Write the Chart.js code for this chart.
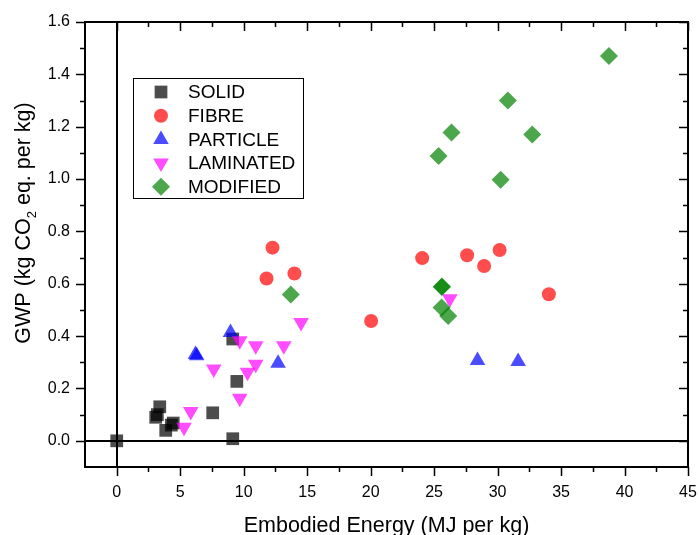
<!DOCTYPE html>
<html>
<head>
<meta charset="utf-8">
<script src="https://cdn.jsdelivr.net/npm/chart.js@4.4.0/dist/chart.umd.min.js"></script>
<style>
  html, body { margin: 0; padding: 0; background: #fff; }
  #wrap { width: 699px; height: 535px; }
</style>
</head>
<body>
<div id="wrap"><canvas id="gwp"></canvas></div>
<script>
// data
const seriesNames = ["SOLID", "FIBRE", "PARTICLE", "LAMINATED", "MODIFIED"];

const solidX = [0, 3.07, 3.2, 3.39, 3.86, 4.3, 4.45, 7.56, 9.14, 9.46, 9.14];
const solidY = [0, 0.09, 0.1, 0.13, 0.04, 0.06, 0.068, 0.107, 0.008, 0.227, 0.389];

const fibreX = [11.8, 12.27, 14.0, 20.04, 24.06, 27.6, 28.94, 30.16, 34.04];
const fibreY = [0.62, 0.738, 0.639, 0.458, 0.698, 0.709, 0.668, 0.729, 0.56];

const particleX = [6.2, 6.3, 8.96, 12.71, 28.42, 31.62];
const particleY = [0.33, 0.325, 0.414, 0.296, 0.307, 0.303];

const laminatedX = [5.3, 5.83, 7.64, 9.69, 9.69, 10.3, 10.95, 10.95, 13.16, 14.52, 26.24];
const laminatedY = [0.052, 0.112, 0.274, 0.163, 0.382, 0.262, 0.293, 0.363, 0.363, 0.452, 0.543];

const modifiedX = [13.71, 25.35, 25.59, 25.61, 25.61, 26.11, 26.37, 30.24, 30.81, 32.73, 38.77];
const modifiedY = [0.559, 1.088, 0.509, 0.588, 0.59, 0.477, 1.178, 0.997, 1.30, 1.17, 1.47];

const xTicks = [0, 5, 10, 15, 20, 25, 30, 35, 40, 45];
const xMinor = [2.5, 7.5, 12.5, 17.5, 22.5, 27.5, 32.5, 37.5, 42.5];
const yTicks = [0.0, 0.2, 0.4, 0.6, 0.8, 1.0, 1.2, 1.4, 1.6];
const yMinor = [0.1, 0.3, 0.5, 0.7, 0.9, 1.1, 1.3, 1.5];

const FONT = "'Liberation Sans', Arial, sans-serif";

function pts(xs, ys) {
    return xs.map((x, i) => ({ x: x, y: ys[i] }));
}

const styles = [
    { color: "rgba(0,0,0,0.7)",     pointStyle: "rect",     radius: 9, rotation: 0 },
    { color: "rgba(255,0,0,0.7)",   pointStyle: "circle",   radius: 7, rotation: 0 },
    { color: "rgba(0,0,255,0.7)",   pointStyle: "triangle", radius: 9, rotation: 0 },
    { color: "rgba(255,0,255,0.7)", pointStyle: "triangle", radius: 9, rotation: 180 },
    { color: "rgba(0,128,0,0.7)",   pointStyle: "rectRot",  radius: 9, rotation: 0 }
];
const allX = [solidX, fibreX, particleX, laminatedX, modifiedX];
const allY = [solidY, fibreY, particleY, laminatedY, modifiedY];

const datasets = seriesNames.map((name, i) => ({
    label: name,
    data: pts(allX[i], allY[i]),
    backgroundColor: styles[i].color,
    borderWidth: 0,
    pointStyle: styles[i].pointStyle,
    pointRadius: styles[i].radius,
    pointHoverRadius: styles[i].radius,
    pointRotation: styles[i].rotation,
    order: seriesNames.length - i
}));

// zero lines under the markers
const zeroLines = {
    id: "zeroLines",
    beforeDatasetsDraw(chart) {
        const { ctx, chartArea: a, scales: { x, y } } = chart;
        ctx.save();
        ctx.strokeStyle = "#000";
        ctx.lineWidth = 2;
        ctx.beginPath();
        const y0 = Math.round(y.getPixelForValue(0));
        const x0 = Math.round(x.getPixelForValue(0));
        ctx.moveTo(a.left, y0); ctx.lineTo(a.right, y0);
        ctx.moveTo(x0, a.top); ctx.lineTo(x0, a.bottom);
        ctx.stroke();
        ctx.restore();
    }
};

// frame, ticks, axis titles, legend
const frame = {
    id: "frame",
    afterDraw(chart) {
        const { ctx, chartArea: a, scales: { x, y } } = chart;
        ctx.save();
        ctx.strokeStyle = "#000";
        ctx.lineWidth = 2;
        ctx.strokeRect(a.left, a.top, a.right - a.left, a.bottom - a.top);

        ctx.lineWidth = 1.5;
        ctx.beginPath();
        const tickX = (v, len) => {
            const px = Math.round(x.getPixelForValue(v)) + 0.5;
            ctx.moveTo(px, a.bottom); ctx.lineTo(px, a.bottom + len);
            ctx.moveTo(px, a.top); ctx.lineTo(px, a.top + len);
        };
        const tickY = (v, len) => {
            const py = Math.round(y.getPixelForValue(v)) + 0.5;
            ctx.moveTo(a.left, py); ctx.lineTo(a.left - len, py);
            ctx.moveTo(a.right, py); ctx.lineTo(a.right - len, py);
        };
        xTicks.forEach(v => tickX(v, 9));
        xMinor.forEach(v => tickX(v, 5));
        yTicks.forEach(v => tickY(v, 9));
        yMinor.forEach(v => tickY(v, 5));
        ctx.stroke();

        // x title
        ctx.fillStyle = "#000";
        ctx.font = "21.5px " + FONT;
        ctx.textAlign = "center";
        ctx.textBaseline = "alphabetic";
        ctx.fillText("Embodied Energy (MJ per kg)", (a.left + a.right) / 2, 532);

        // y title with subscript
        ctx.save();
        ctx.translate(30, 223);
        ctx.rotate(-Math.PI / 2);
        const p1 = "GWP (kg CO", p2 = "2", p3 = " eq. per kg)";
        const big = "21.5px " + FONT, small = "13px " + FONT;
        ctx.font = big;
        const w1 = ctx.measureText(p1).width, w3 = ctx.measureText(p3).width;
        ctx.font = small;
        const w2 = ctx.measureText(p2).width;
        let sx = -(w1 + w2 + w3) / 2;
        ctx.textAlign = "left";
        ctx.font = big;
        ctx.fillText(p1, sx, 0);
        ctx.font = small;
        ctx.fillText(p2, sx + w1, 6);
        ctx.font = big;
        ctx.fillText(p3, sx + w1 + w2, 0);
        ctx.restore();

        // legend
        ctx.lineWidth = 1;
        ctx.strokeRect(133.5, 78.5, 170, 120);
        ctx.font = "19px " + FONT;
        ctx.textAlign = "left";
        ctx.textBaseline = "middle";
        seriesNames.forEach((name, i) => {
            const cy = 92 + i * 23.7, cx = 161;
            const s = styles[i];
            ctx.fillStyle = s.color;
            ctx.beginPath();
            const r = s.radius;
            if (s.pointStyle === "rect") {
                const h = r * Math.SQRT1_2;
                ctx.rect(cx - h, cy - h, 2 * h, 2 * h);
            } else if (s.pointStyle === "circle") {
                ctx.arc(cx, cy, r, 0, Math.PI * 2);
            } else if (s.pointStyle === "triangle") {
                const d = s.rotation === 180 ? -1 : 1;
                ctx.moveTo(cx, cy - d * r);
                ctx.lineTo(cx + r * 0.866, cy + d * r / 2);
                ctx.lineTo(cx - r * 0.866, cy + d * r / 2);
                ctx.closePath();
            } else {
                ctx.moveTo(cx, cy - r); ctx.lineTo(cx + r, cy);
                ctx.lineTo(cx, cy + r); ctx.lineTo(cx - r, cy);
                ctx.closePath();
            }
            ctx.fill();
            ctx.fillStyle = "#000";
            ctx.fillText(name, 188, cy + 1);
        });
        ctx.restore();
    }
};

new Chart(document.getElementById("gwp"), {
    type: "scatter",
    data: { datasets: datasets },
    plugins: [zeroLines, frame],
    options: {
        responsive: true,
        maintainAspectRatio: false,
        animation: false,
        events: [],
        layout: { padding: { top: 22, right: 11, left: 0, bottom: 0 } },
        plugins: { legend: { display: false }, tooltip: { enabled: false } },
        scales: {
            x: {
                type: "linear",
                min: -2.5,
                max: 45,
                afterBuildTicks: s => { s.ticks = xTicks.map(v => ({ value: v })); },
                afterFit: s => { s.height = 68; s.paddingLeft = 0; s.paddingRight = 0; },
                grid: { display: false, drawTicks: false },
                border: { display: false },
                ticks: { color: "#000", font: { family: FONT, size: 16 }, padding: 16, maxRotation: 0 }
            },
            y: {
                type: "linear",
                min: -0.1,
                max: 1.6,
                afterBuildTicks: s => { s.ticks = yTicks.map(v => ({ value: v })); },
                afterFit: s => { s.width = 85; s.paddingTop = 0; s.paddingBottom = 0; },
                grid: { display: false, drawTicks: false },
                border: { display: false },
                ticks: { color: "#000", font: { family: FONT, size: 16 }, padding: 15,
                         callback: v => v.toFixed(1) }
            }
        }
    }
});
</script>
</body>
</html>
